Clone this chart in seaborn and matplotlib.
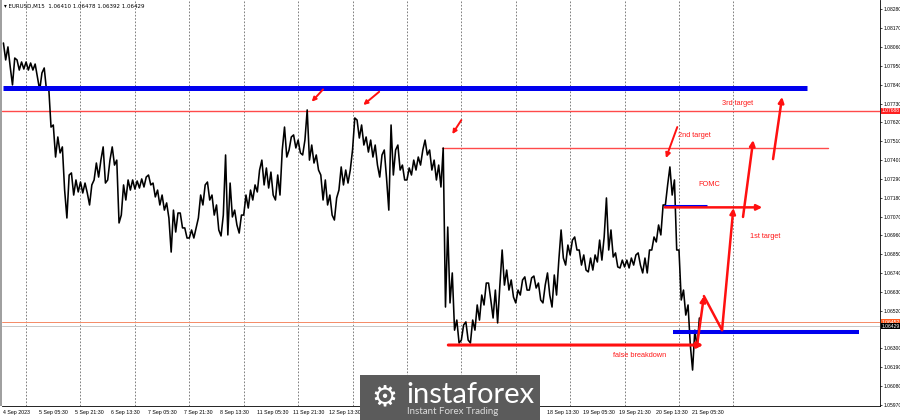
import matplotlib
matplotlib.use("Agg")
import matplotlib.pyplot as plt
import matplotlib.transforms as mtransforms
from matplotlib.patches import Rectangle, FancyArrowPatch
import numpy as np
import pandas as pd
import seaborn as sns

sns.set_style("white")
plt.rcParams['font.family'] = ['Liberation Sans', 'DejaVu Sans']

# ---------------- data (EURUSD M15, 2-hour groups of candles: high / low) ----------------
group_high = [
    1.08084, 1.08061, 1.07996, 1.07985, 1.07973, 1.07973, 1.07967, 1.07961, 1.07909, 1.07938,
    1.07821, 1.07605, 1.07535, 1.07477, 1.07313, 1.07325, 1.07284, 1.07272, 1.07266, 1.07255,
    1.07383, 1.07400, 1.07477, 1.07400, 1.07477, 1.07400, 1.07255, 1.07284, 1.07284, 1.07278,
    1.07290, 1.07301, 1.07313, 1.07266, 1.07225, 1.07196, 1.07150, 1.07108, 1.07091, 1.07091,
    1.07004, 1.06992, 1.07004, 1.07196, 1.07255, 1.07272, 1.07196, 1.07138, 1.07079, 1.07430,
    1.07266, 1.07108, 1.07079, 1.07196, 1.07225, 1.07255, 1.07342, 1.07400, 1.07354, 1.07330,
    1.07313, 1.07459, 1.07593, 1.07535, 1.07547, 1.07517, 1.07517, 1.07693, 1.07488, 1.07430,
    1.07313, 1.07284, 1.07196, 1.07179, 1.07360, 1.07342, 1.07342, 1.07646, 1.07634, 1.07605,
    1.07535, 1.07517, 1.07488, 1.07430, 1.07459, 1.07605, 1.07459, 1.07488, 1.07371, 1.07354,
    1.07400, 1.07418, 1.07459, 1.07517, 1.07459, 1.07400, 1.07371, 1.07471, 1.07009, 1.06741,
    1.06466, 1.06437, 1.06455, 1.06466, 1.06554, 1.06612, 1.06682, 1.06682, 1.06641, 1.06670,
    1.06875, 1.06758, 1.06700, 1.06641, 1.06700, 1.06718, 1.06712, 1.06723, 1.06682, 1.06670,
    1.06741, 1.06729, 1.06816, 1.06992, 1.06904, 1.06933, 1.06951, 1.06875, 1.06846, 1.06828,
    1.06846, 1.06933, 1.06951, 1.07179, 1.06992, 1.06858, 1.06816, 1.06816, 1.06828, 1.06846,
    1.06858, 1.06828, 1.06875, 1.06951, 1.07021, 1.07138, 1.07255, 1.07360, 1.07284, 1.06875,
    1.06641, 1.06554, 1.06407, 1.06478,
]
group_low = [
    1.07985, 1.07944, 1.07839, 1.07926, 1.07932, 1.07926, 1.07926, 1.07885, 1.07809, 1.07809,
    1.07593, 1.07418, 1.07442, 1.07225, 1.07062, 1.07196, 1.07214, 1.07208, 1.07208, 1.07138,
    1.07284, 1.07301, 1.07266, 1.07284, 1.07371, 1.07033, 1.07079, 1.07167, 1.07225, 1.07231,
    1.07237, 1.07243, 1.07255, 1.07185, 1.07138, 1.07108, 1.07062, 1.06863, 1.06980, 1.07004,
    1.06945, 1.06945, 1.06945, 1.07062, 1.07138, 1.07167, 1.07079, 1.06992, 1.06957, 1.06963,
    1.07068, 1.07021, 1.06974, 1.07079, 1.07120, 1.07167, 1.07214, 1.07255, 1.07237, 1.07196,
    1.07167, 1.07196, 1.07418, 1.07459, 1.07471, 1.07442, 1.07430, 1.07400, 1.07383, 1.07342,
    1.07167, 1.07138, 1.07079, 1.07050, 1.07225, 1.07255, 1.07266, 1.07459, 1.07529, 1.07488,
    1.07447, 1.07418, 1.07371, 1.07301, 1.07295, 1.07108, 1.07313, 1.07342, 1.07284, 1.07284,
    1.07313, 1.07342, 1.07371, 1.07430, 1.07342, 1.07284, 1.07243, 1.06542, 1.06566, 1.06407,
    1.06332, 1.06349, 1.06349, 1.06332, 1.06407, 1.06466, 1.06554, 1.06583, 1.06478, 1.06449,
    1.06670, 1.06641, 1.06600, 1.06566, 1.06612, 1.06641, 1.06641, 1.06653, 1.06583, 1.06566,
    1.06612, 1.06542, 1.06612, 1.06828, 1.06787, 1.06846, 1.06875, 1.06787, 1.06758, 1.06747,
    1.06758, 1.06805, 1.06816, 1.06875, 1.06834, 1.06776, 1.06770, 1.06776, 1.06770, 1.06787,
    1.06787, 1.06741, 1.06741, 1.06875, 1.06922, 1.06963, 1.07138, 1.07196, 1.06875, 1.06583,
    1.06495, 1.06320, 1.06174, 1.06309,
]
bars_per_group = 8
first_bar = -42           # 4 Sep 2023 13:30 relative to 5 Sep 00:00 (bar 0)

# header
symbol_text = "EURUSD,M15  1.06410 1.06478 1.06392 1.06429"

# levels
resistance_level = 1.07824
red_level = 1.07688
target2_level = 1.07471
fomc_level = 1.07132
support_level = 1.06399
false_break_level = 1.06320
ask_level = 1.06452
bid_level = 1.06429

# axis labels
price_ticks = [1.08280, 1.08170, 1.08060, 1.07950, 1.07840, 1.07730, 1.07620, 1.07510,
               1.07400, 1.07290, 1.07180, 1.07070, 1.06960, 1.06850, 1.06740, 1.06630,
               1.06520, 1.06300, 1.06190, 1.06080, 1.05970]
time_labels = ["4 Sep 2023", "5 Sep 05:30", "5 Sep 21:30", "6 Sep 13:30", "7 Sep 05:30",
               "7 Sep 21:30", "8 Sep 13:30", "11 Sep 05:30", "11 Sep 21:30", "12 Sep 13:30",
               "13 Sep 05:30", "13 Sep 21:30", "14 Sep 13:30", "15 Sep 05:30", "15 Sep 21:30",
               "18 Sep 13:30", "19 Sep 05:30", "19 Sep 21:30", "20 Sep 13:30", "21 Sep 05:30"]
hidden_by_logo = ["13 Sep 05:30", "13 Sep 21:30", "14 Sep 13:30", "15 Sep 05:30", "15 Sep 21:30"]
label_step = 64
day_bars = 96
n_days = 14

# ---------------- build zigzag path ----------------
xs, ps = [], []
n = len(group_high)
for k in range(n):
    c = first_bar + bars_per_group * k + bars_per_group / 2
    mid = (group_high[k] + group_low[k]) / 2
    nxt = (group_high[k + 1] + group_low[k + 1]) / 2 if k + 1 < n else mid
    if nxt >= mid:
        seq = [(c - 2, group_low[k]), (c + 2, group_high[k])]
    else:
        seq = [(c - 2, group_high[k]), (c + 2, group_low[k])]
    for x, p in seq:
        xs.append(x)
        ps.append(p)
df = pd.DataFrame({"bar": xs, "price": ps})

# ---------------- figure ----------------
fig = plt.figure(figsize=(9, 4.2), dpi=100)
ax = fig.add_axes([2 / 900, 14 / 420, 878 / 900, 406 / 420])
ax.set_xlim(-42.5, 1506.7)
ax.set_ylim(1.05964, 1.08335)

# day separators
for d in range(n_days):
    ax.axvline(d * day_bars, color="#6a6a6a", lw=0.6, ls=(0, (2, 2)), zorder=1)

# price path
sns.lineplot(data=df, x="bar", y="price", sort=False, estimator=None,
             color="black", lw=1.15, ax=ax, zorder=3)

# horizontal lines
ax.axhline(red_level, color="#ff4a4a", lw=1.0, zorder=2)
ax.axhline(ask_level, color="#f58a66", lw=0.7, zorder=2)
ax.axhline(bid_level, color="#c8c8c8", lw=0.7, zorder=2)
ax.plot([-40, 1378], [resistance_level] * 2, color="#0000ee", lw=3.6, solid_capstyle="butt", zorder=4)
ax.plot([734, 1415], [target2_level] * 2, color="#ff4a4a", lw=1.0, zorder=2)
ax.plot([1142, 1470], [support_level] * 2, color="#0000ee", lw=2.9, solid_capstyle="butt", zorder=4)
ax.plot([1126, 1201], [fomc_level] * 2, color="#0000ee", lw=2.2, solid_capstyle="butt", zorder=4)


def arrow(x0, y0, x1, y1, lw=1.8, ms=8, head=True):
    a = FancyArrowPatch((x0, y0), (x1, y1), arrowstyle="-|>" if head else "-",
                        mutation_scale=ms, color="#ff1010", lw=lw,
                        shrinkA=0, shrinkB=0, zorder=6)
    ax.add_patch(a)


# pointing arrows at highs
arrow(524, 1.07813, 504, 1.07741, lw=1.4, ms=6)
arrow(623, 1.07799, 595, 1.07722, lw=1.4, ms=6)
arrow(768, 1.07634, 752, 1.07552, lw=1.4, ms=6)
arrow(1149, 1.07593, 1129, 1.07412, lw=1.4, ms=7)
# false breakdown arrow
arrow(745, false_break_level, 1195, false_break_level, lw=2.2, ms=8)
# FOMC horizontal arrow
arrow(1127, 1.07124, 1299, 1.07124, lw=1.8, ms=8)
# zigzag forecast
arrow(1184, 1.06320, 1196, 1.06606, lw=1.8, ms=8)
arrow(1196, 1.06606, 1228, 1.06407, lw=1.8, ms=8, head=False)
arrow(1228, 1.06407, 1248, 1.07120, lw=1.8, ms=8)
arrow(1265, 1.07068, 1283, 1.07517, lw=1.8, ms=8)
arrow(1318, 1.07406, 1334, 1.07769, lw=1.8, ms=8)

# annotation texts
txt = dict(color="#ff1a1a", fontsize=5.3, va="center", ha="left", zorder=7)
ax.text(1228, 1.07733, "3rd target", **txt)
ax.text(1150, 1.07541, "2nd target", **txt)
ax.text(1187, 1.07255, "FOMC", **txt)
ax.text(1277, 1.06951, "1st target", **txt)
ax.text(1036, 1.06256, "false breakdown", **txt)

# axes styling
for s in ["top", "left"]:
    ax.spines[s].set_visible(False)
for s in ["right", "bottom"]:
    ax.spines[s].set_color("black")
    ax.spines[s].set_linewidth(0.6)
ax.set_xlabel("")
ax.set_ylabel("")
ax.yaxis.tick_right()
ax.set_yticks(price_ticks)
ax.set_yticklabels([f"{v:.5f}" for v in price_ticks])
ax.tick_params(axis="y", length=1.5, width=0.5, pad=0.8, labelsize=3.6, colors="black")
ax.set_xticks([first_bar + 0.6 + label_step * i for i in range(len(time_labels))])
ax.set_xticklabels(["" if t in hidden_by_logo else t for t in time_labels], ha="left")
ax.tick_params(axis="x", length=2, width=0.5, pad=1.0, labelsize=3.8, colors="black")

# price labels on the right scale
trans = mtransforms.blended_transform_factory(ax.transAxes, ax.transData)
for lvl, lab, fc, tc in [(red_level, "1.07688", "#ff2020", "white"),
                         (ask_level, "1.06452", "#ff5a1f", "white"),
                         (bid_level, "1.06429", "black", "white")]:
    ax.text(1.0015, lvl, lab, transform=trans, fontsize=3.6, color=tc, va="center", ha="left",
            bbox=dict(boxstyle="square,pad=0.12", fc=fc, ec="none"), zorder=8, clip_on=False)

# header
ax.text(0.002, 0.99, "\u25be " + symbol_text, transform=ax.transAxes, fontsize=4,
        va="top", ha="left", family=["DejaVu Sans"], color="black")

# left border
fig.add_artist(Rectangle((0, 14 / 420), 2 / 900, 406 / 420, transform=fig.transFigure,
                         fc="#a0a0a0", ec="none"))

# logo
fig.add_artist(Rectangle((360 / 900, 0), 180 / 900, 45 / 420, transform=fig.transFigure,
                         fc="#5b5b5b", ec="none", zorder=20))
fig.text(384 / 900, 1 - 397 / 420, "\u2699", fontsize=21, color="white", ha="center",
         va="center", family=["DejaVu Sans"], zorder=21)
fig.text(406 / 900, 1 - 403 / 420, "instaforex", fontsize=21, color="white", ha="left",
         va="baseline", family=["Lato", "DejaVu Sans"], zorder=21)
fig.text(407 / 900, 1 - 414.5 / 420, "Instant Forex Trading", fontsize=7, color="#dcdcdc",
         ha="left", va="baseline", family=["Lato", "DejaVu Sans"], zorder=21)

fig.savefig("out.png", dpi=100)
